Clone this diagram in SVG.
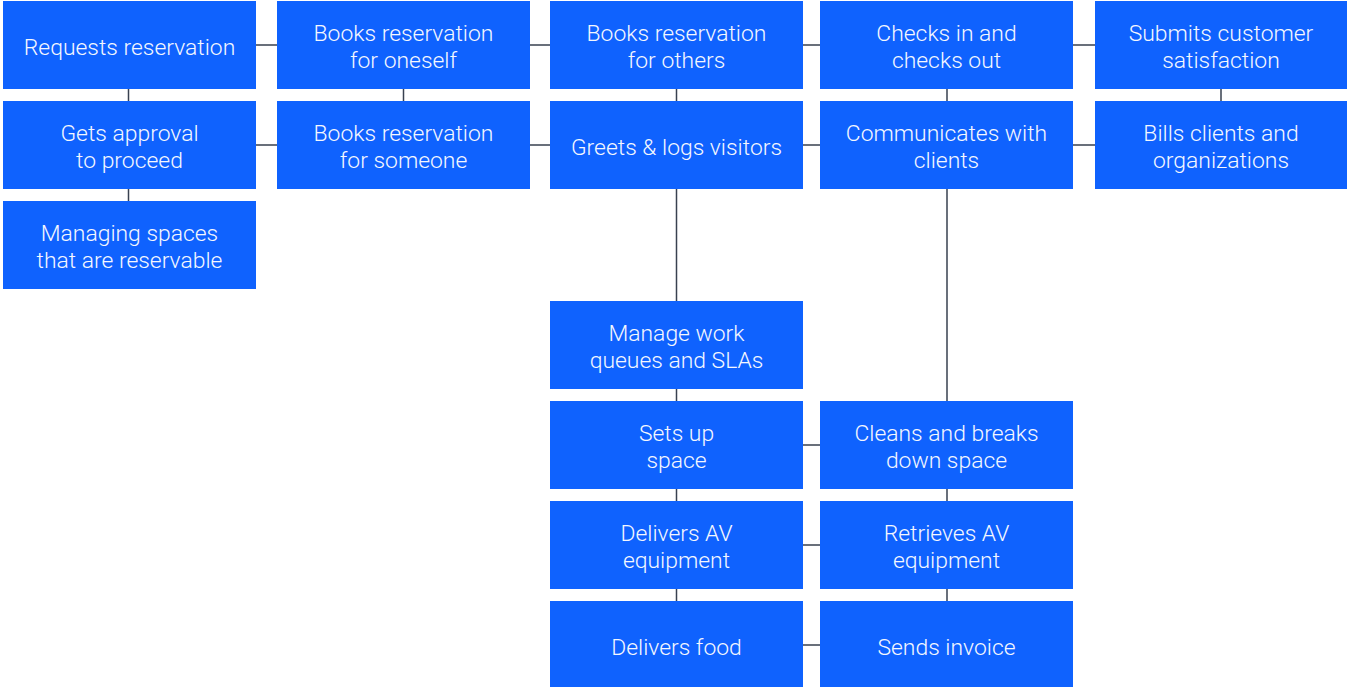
<svg xmlns="http://www.w3.org/2000/svg" width="1347" height="687" viewBox="0 0 1347 687">
<style>
.b{fill:#0f62fe}
.t{fill:#f4f7ff;font-family:Roboto,"Liberation Sans",sans-serif;font-weight:300;font-size:22.9px;text-anchor:middle}
.c{stroke:#394150;stroke-width:1.5;fill:none}
</style>
<rect width="1347" height="687" fill="#ffffff"/>
<g id="connectors">
<path class="c" d="M256 45H277M530 45H550M803 45H820M1073 45H1095M256 145H277M530 145H550M803 145H820M1073 145H1095M803 445H820M803 545H820M803 645H820"/>
<path class="c" d="M128.5 89V101M128.5 189V201M403.5 89V101M676.5 89V101M676.5 189V301M676.5 389V401M676.5 489V501M676.5 589V601M947 89V101M947 189V401M947 489V501M947 589V601M1221 89V101"/>
</g>
<g id="n1"><rect class="b" x="3" y="1" width="253" height="88"/><text class="t" x="129.5" y="55">Requests reservation</text></g>
<g id="n2"><rect class="b" x="277" y="1" width="253" height="88"/><text class="t" x="403.5" y="41">Books reservation</text><text class="t" x="403.5" y="68">for oneself</text></g>
<g id="n3"><rect class="b" x="550" y="1" width="253" height="88"/><text class="t" x="676.5" y="41">Books reservation</text><text class="t" x="676.5" y="68">for others</text></g>
<g id="n4"><rect class="b" x="820" y="1" width="253" height="88"/><text class="t" x="946.5" y="41">Checks in and</text><text class="t" x="946.5" y="68">checks out</text></g>
<g id="n5"><rect class="b" x="1095" y="1" width="253" height="88"/><text class="t" x="1221" y="41">Submits customer</text><text class="t" x="1221" y="68">satisfaction</text></g>
<g id="n6"><rect class="b" x="3" y="101" width="253" height="88"/><text class="t" x="129.5" y="141">Gets approval</text><text class="t" x="129.5" y="168">to proceed</text></g>
<g id="n7"><rect class="b" x="277" y="101" width="253" height="88"/><text class="t" x="403.5" y="141">Books reservation</text><text class="t" x="403.5" y="168">for someone</text></g>
<g id="n8"><rect class="b" x="550" y="101" width="253" height="88"/><text class="t" x="676.5" y="155">Greets &amp; logs visitors</text></g>
<g id="n9"><rect class="b" x="820" y="101" width="253" height="88"/><text class="t" x="946.5" y="141">Communicates with</text><text class="t" x="946.5" y="168">clients</text></g>
<g id="n10"><rect class="b" x="1095" y="101" width="253" height="88"/><text class="t" x="1221" y="141">Bills clients and</text><text class="t" x="1221" y="168">organizations</text></g>
<g id="n11"><rect class="b" x="3" y="201" width="253" height="88"/><text class="t" x="129.5" y="241">Managing spaces</text><text class="t" x="129.5" y="268">that are reservable</text></g>
<g id="n12"><rect class="b" x="550" y="301" width="253" height="88"/><text class="t" x="676.5" y="341">Manage work</text><text class="t" x="676.5" y="368">queues and SLAs</text></g>
<g id="n13"><rect class="b" x="550" y="401" width="253" height="88"/><text class="t" x="676.5" y="441">Sets up</text><text class="t" x="676.5" y="468">space</text></g>
<g id="n14"><rect class="b" x="820" y="401" width="253" height="88"/><text class="t" x="946.5" y="441">Cleans and breaks</text><text class="t" x="946.5" y="468">down space</text></g>
<g id="n15"><rect class="b" x="550" y="501" width="253" height="88"/><text class="t" x="676.5" y="541">Delivers AV</text><text class="t" x="676.5" y="568">equipment</text></g>
<g id="n16"><rect class="b" x="820" y="501" width="253" height="88"/><text class="t" x="946.5" y="541">Retrieves AV</text><text class="t" x="946.5" y="568">equipment</text></g>
<g id="n17"><rect class="b" x="550" y="601" width="253" height="88"/><text class="t" x="676.5" y="655">Delivers food</text></g>
<g id="n18"><rect class="b" x="820" y="601" width="253" height="88"/><text class="t" x="946.5" y="655">Sends invoice</text></g>
</svg>
